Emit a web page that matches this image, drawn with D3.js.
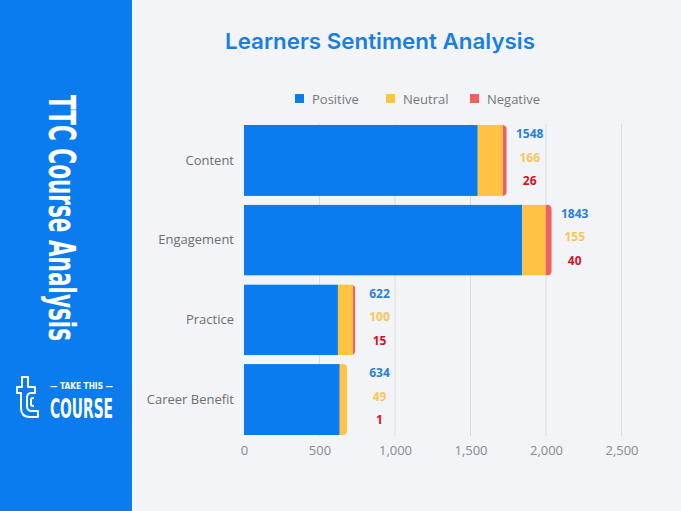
<html>
  <head>
    <meta charset="utf-8">
    <title>Learners Sentiment Analysis</title>
    <script src="https://d3js.org/d3.v7.min.js"></script>
    <style type="text/css">
      body { margin: 0; background: #f2f4f8; }
      svg { display: block; }
      .tick text { font-family: "Open Sans", sans-serif; }
    </style>
  </head>
  <body>
    <div id="chart"></div>
  </body>
</html>
<script type="text/javascript">
  const width = 681, height = 511;

  // data
  const categories = ["Content", "Engagement", "Practice", "Career Benefit"];
  const positive = [1548, 1843, 622, 634];
  const neutral = [166, 155, 100, 49];
  const negative = [26, 40, 15, 1];
  const seriesNames = ["Positive", "Neutral", "Negative"];
  const xTicks = [0, 500, 1000, 1500, 2000, 2500];

  const colors = ["#0a7cf0", "#fec343", "#ef5f5f"];
  const labelColors = ["#2b80dc", "#f7c658", "#d3141f"];
  const condensed = "'Liberation Sans Narrow', 'DejaVu Sans Condensed', sans-serif";

  const svg = d3.select("#chart").append("svg")
    .attr("width", width)
    .attr("height", height);

  svg.append("rect").attr("width", width).attr("height", height).attr("fill", "#f2f4f8");

  // sidebar
  svg.append("rect").attr("x", 0).attr("y", 0).attr("width", 132).attr("height", height).attr("fill", "#0b7cee");

  // tall condensed lettering: stretch the glyphs across the reading direction
  svg.append("text")
    .attr("transform", "translate(62,218) rotate(90) scale(1,1.4)")
    .attr("text-anchor", "middle")
    .attr("dominant-baseline", "central")
    .attr("fill", "#fff")
    .attr("font-family", condensed)
    .attr("font-weight", "bold")
    .attr("font-size", 26)
    .attr("textLength", 246)
    .attr("lengthAdjust", "spacingAndGlyphs")
    .text("TTC Course Analysis");

  // logo
  const logo = svg.append("g").attr("fill", "none").attr("stroke", "#fff").attr("stroke-width", 2).attr("stroke-linejoin", "round");
  logo.append("path").attr("d",
    "M22,377 H28 V387 H35 V393 H31 Q27,393 27,398 V406 Q27,411 32,411 H38 V417 H30 Q21,417 21,408 V393 H17 V387 H22 Z");
  logo.append("path").attr("d", "M34,398 H33 Q31,398 31,400 V404 Q31,406 33,406 H34");

  svg.append("text")
    .attr("x", 81.5).attr("y", 389)
    .attr("text-anchor", "middle")
    .attr("fill", "#fff")
    .attr("font-family", condensed)
    .attr("font-weight", "bold")
    .attr("font-size", 9)
    .attr("textLength", 63)
    .attr("lengthAdjust", "spacingAndGlyphs")
    .text("— TAKE THIS —");
  svg.append("text")
    .attr("transform", "translate(50,418) scale(1,1.55)")
    .attr("fill", "#fff")
    .attr("font-family", condensed)
    .attr("font-weight", "bold")
    .attr("font-size", 17)
    .attr("textLength", 63)
    .attr("lengthAdjust", "spacingAndGlyphs")
    .text("COURSE");

  // title
  svg.append("text")
    .attr("x", 380).attr("y", 49)
    .attr("text-anchor", "middle")
    .attr("fill", "#1a7fe2")
    .attr("font-family", "Inter, 'Open Sans', sans-serif")
    .attr("font-weight", 600)
    .attr("font-size", 22)
    .attr("textLength", 310)
    .attr("lengthAdjust", "spacingAndGlyphs")
    .text("Learners Sentiment Analysis");

  // legend
  const legendX = [295, 386, 470];
  const legend = svg.append("g");
  seriesNames.forEach(function(name, i) {
    legend.append("rect")
      .attr("x", legendX[i]).attr("y", 94).attr("width", 9).attr("height", 9)
      .attr("fill", colors[i]);
    legend.append("text")
      .attr("x", legendX[i] + 17).attr("y", 104)
      .attr("fill", "#777")
      .attr("font-family", "'Open Sans', sans-serif")
      .attr("font-size", 13)
      .text(name);
  });

  const x = d3.scaleLinear().domain([0, 2500]).range([244, 621.5]);
  const y = d3.scaleBand().domain(categories).range([125, 435]).paddingInner(0.11).paddingOuter(0);

  // grid
  svg.append("g")
    .selectAll("line")
    .data(xTicks.slice(1))
    .enter().append("line")
      .attr("x1", d => x(d)).attr("x2", d => x(d))
      .attr("y1", 124).attr("y2", 436)
      .attr("stroke", "#d9dbdf").attr("stroke-width", 1);

  // x axis
  const xAxis = svg.append("g")
    .attr("transform", "translate(0,438)")
    .call(d3.axisBottom(x).tickValues(xTicks).tickFormat(d3.format(",")).tickSize(0).tickPadding(8));
  xAxis.select(".domain").remove();
  xAxis.selectAll("text").attr("fill", "#8a8a8a").attr("font-size", 13);

  // y axis labels
  const yAxis = svg.append("g")
    .attr("transform", "translate(244,0)")
    .call(d3.axisLeft(y).tickSize(0).tickPadding(10));
  yAxis.select(".domain").remove();
  yAxis.selectAll("text").attr("fill", "#6e6e6e").attr("font-size", 13);

  // stacked bars
  const rows = categories.map(function(c, i) {
    return { cat: c, values: [positive[i], neutral[i], negative[i]] };
  });

  const r = 5;
  rows.forEach(function(row) {
    let start = 0;
    const total = d3.sum(row.values);
    const y0 = y(row.cat), h = y.bandwidth();
    const g = svg.append("g");
    // clip so the last segment gets the rounded right end
    const id = "clip-" + row.cat.replace(/\s/g, "");
    g.append("clipPath").attr("id", id)
      .append("path")
      .attr("d", "M" + x(0) + "," + y0 +
        " H" + (x(total) - r) +
        " Q" + x(total) + "," + y0 + " " + x(total) + "," + (y0 + r) +
        " V" + (y0 + h - r) +
        " Q" + x(total) + "," + (y0 + h) + " " + (x(total) - r) + "," + (y0 + h) +
        " H" + x(0) + " Z");
    row.values.forEach(function(v, k) {
      g.append("rect")
        .attr("clip-path", "url(#" + id + ")")
        .attr("x", x(start))
        .attr("y", y0)
        .attr("width", x(start + v) - x(start))
        .attr("height", h)
        .attr("fill", colors[k]);
      start += v;
    });

    // value labels
    const lx = x(Math.max(total, 745)) + 23;
    const cy = y0 + h / 2 - 3;
    row.values.forEach(function(v, k) {
      svg.append("text")
        .attr("x", lx)
        .attr("y", cy + (k - 1) * 23.5)
        .attr("dy", "0.35em")
        .attr("text-anchor", "middle")
        .attr("fill", labelColors[k])
        .attr("font-family", "'Open Sans', sans-serif")
        .attr("font-weight", "bold")
        .attr("font-size", 12)
        .text(v);
    });
  });
</script>
